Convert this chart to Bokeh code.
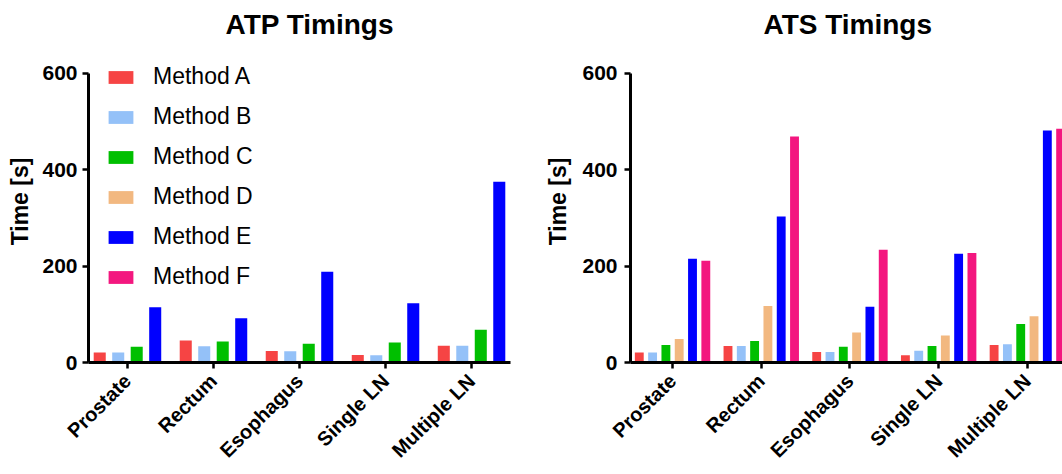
import math
from bokeh.plotting import figure
from bokeh.models import (Range1d, FixedTicker, ColumnDataSource, Legend,
                          LegendItem)
from bokeh.transform import dodge
from bokeh.layouts import row
from bokeh.embed import file_html
from bokeh.resources import INLINE

nan = float("nan")

categories = ["Prostate", "Rectum", "Esophagus", "Single LN", "Multiple LN"]
methods = ["Method A", "Method B", "Method C", "Method D", "Method E", "Method F"]
colors = ["#F64444", "#94C1F8", "#00BF00", "#F2B880", "#0000FF", "#F3177F"]

# ATP timings (methods D and F were not measured)
atp_a = [20.5, 45.8, 23.9, 15.7, 34.9]
atp_b = [20.5, 33.5, 23.2, 15.0, 34.9]
atp_c = [32.8, 43.7, 39.0, 41.7, 67.7]
atp_d = [nan, nan, nan, nan, nan]
atp_e = [114.8, 91.6, 188.0, 123.0, 374.5]
atp_f = [nan, nan, nan, nan, nan]

# ATS timings
ats_a = [20.5, 34.2, 21.9, 15.0, 36.2]
ats_b = [20.5, 34.2, 21.9, 24.6, 37.6]
ats_c = [36.2, 44.4, 32.8, 34.2, 80.0]
ats_d = [48.5, 116.9, 62.2, 56.0, 95.7]
ats_e = [215.3, 302.7, 115.5, 225.5, 481.0]
ats_f = [211.2, 468.8, 233.7, 226.9, 484.5]

y_ticks = [0, 200, 400, 600]
FONT = "Liberation Sans"
idx = list(range(len(categories)))


def make_fig(title, width, border_left, border_right, x_start, x_end, y_end,
             border_top, border_bottom, title_offset, tick_standoff, label_standoff):
    p = figure(width=width, height=474, x_range=Range1d(x_start, x_end),
               y_range=Range1d(0, y_end), output_backend="svg",
               toolbar_location=None, tools="",
               min_border_left=border_left, min_border_right=border_right,
               min_border_top=border_top, min_border_bottom=border_bottom)
    p.title.text = title
    p.title.text_font = FONT
    p.title.text_font_size = "28px"
    p.title.text_font_style = "bold"
    p.title.text_color = "black"
    p.title.align = "left"
    p.title.offset = title_offset
    p.title.vertical_align = "bottom"
    p.title.standoff = 2
    p.outline_line_color = None
    p.xgrid.grid_line_color = None
    p.ygrid.grid_line_color = None

    for ax in (p.xaxis[0], p.yaxis[0]):
        ax.axis_line_width = 3
        ax.axis_line_color = "black"
        ax.major_tick_line_width = 2.5
        ax.major_tick_line_color = "black"
        ax.major_tick_in = 0
        ax.major_tick_out = 6
        ax.minor_tick_line_color = None
        ax.major_label_text_font = FONT
        ax.major_label_text_font_style = "bold"
        ax.major_label_text_color = "black"

    p.yaxis[0].bounds = (y_ticks[0], y_ticks[-1])
    p.yaxis[0].major_label_text_font_size = "21px"
    p.yaxis[0].ticker = FixedTicker(ticks=y_ticks)
    p.yaxis[0].axis_label = "Time [s]"
    p.yaxis[0].axis_label_text_font = FONT
    p.yaxis[0].axis_label_text_font_style = "bold"
    p.yaxis[0].axis_label_text_font_size = "23px"
    p.yaxis[0].axis_label_text_color = "black"
    p.yaxis[0].axis_label_standoff = label_standoff
    p.yaxis[0].major_label_standoff = tick_standoff

    p.xaxis[0].major_label_text_font_size = "20px"
    p.xaxis[0].ticker = FixedTicker(ticks=idx)
    p.xaxis[0].major_label_overrides = {i: c for i, c in zip(idx, categories)}
    p.xaxis[0].major_label_orientation = math.pi / 4
    p.xaxis[0].major_label_standoff = 9
    return p


def add_bars(p, series, cols, step, width):
    rs = []
    n = len(series)
    for k, (vals, col) in enumerate(zip(series, cols)):
        off = (k - (n - 1) / 2) * step
        src = ColumnDataSource(dict(idx=idx, top=vals))
        r = p.vbar(x=dodge("idx", off, range=p.x_range), top="top", bottom=0,
                   width=width, source=src, fill_color=col, line_color=None)
        rs.append(r)
    return rs


# ---- ATP ----
p1 = make_fig("ATP Timings", 540, 88, 30, -0.453, 4.453, 667.6, 36, 112, 137, 5, 6)
atp_present = [atp_a, atp_b, atp_c, atp_e]
atp_cols = [colors[0], colors[1], colors[2], colors[4]]
ra, rb, rc, re_ = add_bars(p1, atp_present, atp_cols, 0.215, 0.14)
# methods with no ATP measurement: only their legend entries appear
rd, rf = add_bars(p1, [atp_d, atp_f], [colors[3], colors[5]], 0.215, 0.14)
renderers = [ra, rb, rc, rd, re_, rf]

legend = Legend(items=[LegendItem(label=m, renderers=[r]) for m, r in zip(methods, renderers)],
                location=(17, 72))
legend.label_text_font = FONT
legend.label_text_font_size = "23px"
legend.label_text_color = "black"
legend.glyph_width = 31
legend.glyph_height = 16
legend.label_height = 24
legend.label_standoff = 17
legend.spacing = 13
legend.padding = 0
legend.margin = 0
legend.border_line_color = None
legend.background_fill_alpha = 0
p1.add_layout(legend)

# ---- ATS ----
p2 = make_fig("ATS Timings", 522, 90, 0, -0.474, 4.396, 667.6, 40, 108, 133, 7, 8)
ats_series = [ats_a, ats_b, ats_c, ats_d, ats_e, ats_f]
add_bars(p2, ats_series, colors, 0.15, 0.10)

layout = row(p1, p2)
open("out.html", "w").write(file_html(layout, INLINE))
